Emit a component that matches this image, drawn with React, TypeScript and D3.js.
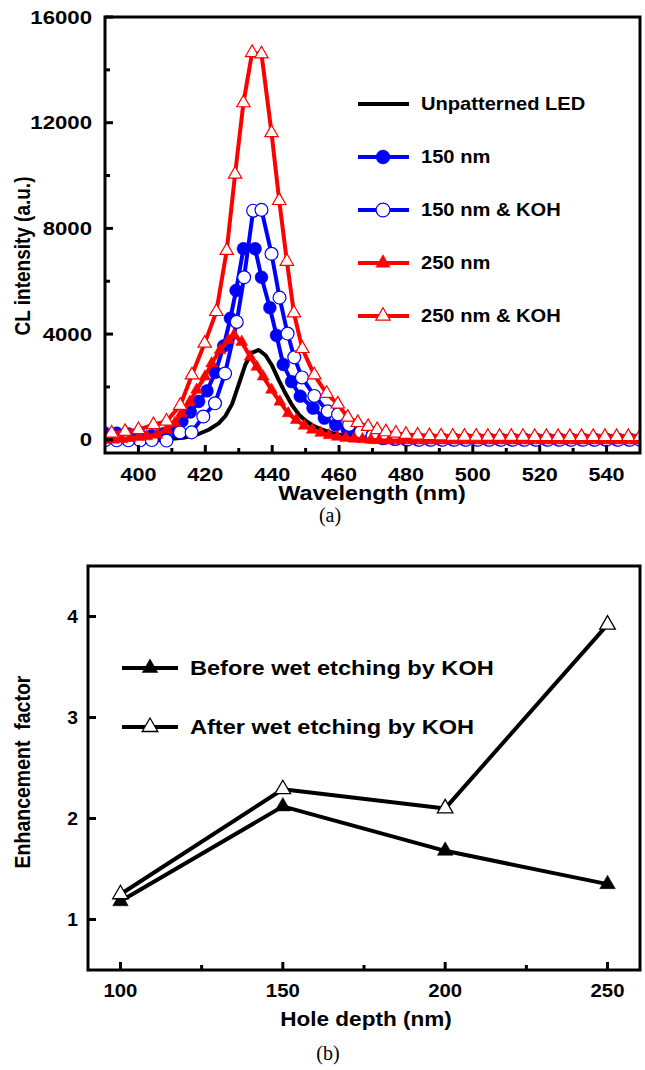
import React, { useRef, useEffect } from 'react';
import * as d3 from 'd3';

type Pt = [number, number];

// (a) CL spectra, [wavelength nm, intensity a.u.]
const unpatterned: Pt[] = [
  [390, 0], [395, 0], [400, 10], [405, 20], [410, 40], [414, 90], [418, 220], [421, 380], [424, 620],
  [426, 900], [428, 1350], [430, 2100], [432, 2850], [434, 3300], [436, 3400], [438, 3200], [440, 2800],
  [442, 2250], [444, 1750], [446, 1300], [448, 950], [450, 720], [452, 550], [455, 380], [458, 250],
  [461, 160], [465, 90], [470, 40], [480, 10], [500, 0], [525, 0], [550, 0],
];

const nm150: Pt[] = [
  [390, 250], [393.5, 250], [397, 220], [400.5, 180], [404, 160], [407.5, 230], [410.5, 420], [413, 700],
  [415.5, 1050], [418, 1450], [420.5, 1850], [423, 2550], [425.5, 3550], [427.5, 4600], [429.2, 5650],
  [431.4, 7230], [434.9, 7230], [436.8, 6150], [439.3, 5000], [441.3, 3950], [443.3, 2850], [445.8, 2200],
  [448.4, 1650], [452.2, 1200], [455.6, 820], [459, 560], [462.5, 360], [466, 200], [469.5, 100], [473, 50],
  [476.5, 20], [480, 0], [483.5, 0], [487, 0], [490.5, 0], [494, 0], [497.5, 0], [501, 0], [504.5, 0],
  [508, 0], [511.5, 0], [515, 0], [518.5, 0], [522, 0], [525.5, 0], [529, 0], [532.5, 0], [536, 0],
  [539.5, 0], [543, 0], [546.5, 0], [550, 0],
];

const nm150Koh: Pt[] = [
  [390, -20], [393.5, -20], [397, -20], [400.5, -20], [404, -10], [408.4, -30], [412.4, 280], [415.9, 280],
  [419.4, 880], [422.9, 1380], [425.9, 2510], [429.4, 4460], [431.6, 6150], [434.3, 8670], [436.8, 8700],
  [439.8, 7040], [442.2, 5380], [444.6, 4020], [446.6, 3120], [448.9, 2360], [452.6, 1660], [456.6, 1080],
  [459.7, 960], [463, 560], [466.5, 300], [470, 150], [473.5, 70], [477, 30], [480.5, 10], [484, 0],
  [487.5, 0], [491, 0], [494.5, 0], [498, 0], [501.5, 0], [505, 0], [508.5, 0], [512, 0], [515.5, 0],
  [519, 0], [522.5, 0], [526, 0], [529.5, 0], [533, 0], [536.5, 0], [540, 0], [543.5, 0], [547, 0], [550, 0],
];

const nm250: Pt[] = [
  [390, 0], [392.5, 0], [395, 30], [397.5, 60], [400, 100], [402.5, 130], [405.5, 190], [408.4, 380],
  [410.9, 630], [412.9, 1000], [415.4, 1440], [417.4, 1890], [419.9, 2390], [421.9, 2890], [424.4, 3390],
  [426.9, 3770], [428.6, 3960], [430.9, 3700], [433.4, 3140], [435.4, 2760], [437.3, 2390], [439.8, 1890],
  [442.3, 1440], [444.8, 1000], [447.2, 750], [449.6, 530], [452, 380], [454.5, 260], [457, 170],
  [459.5, 110], [462, 70], [464.5, 40], [467, 20], [469.5, 0], [472, -20], [475, -30], [478.5, -30],
  [482, -30], [485.5, -30], [489, -30], [492.5, -30], [496, -30], [499.5, -30], [503, -30], [506.5, -30],
  [510, -30], [513.5, -30], [517, -30], [520.5, -30], [524, -30], [527.5, -30], [531, -30], [534.5, -30],
  [538, -30], [541.5, -30], [545, -30], [548.5, -30],
];

const nm250Koh: Pt[] = [
  [392, 250], [396, 310], [400, 380], [404.5, 570], [408.4, 700], [412.5, 1300], [416, 2450], [419.8, 3650],
  [423.3, 4850], [426.4, 7160], [428.9, 10050], [431.4, 12750], [434, 14650], [436.8, 14600], [439.8, 11620],
  [442.1, 9050], [444.4, 6750], [446.5, 4800], [449, 3450], [452.6, 2450], [456.3, 1750], [459.6, 1350],
  [462.6, 850], [465.6, 650], [468.7, 500], [471.4, 380], [474, 300], [477, 250], [480, 200], [483.5, 170],
  [487, 150], [490.5, 140], [494, 130], [497.5, 130], [501, 130], [504.5, 125], [508, 125], [511.5, 125],
  [515, 125], [518.5, 120], [522, 120], [525.5, 120], [529, 120], [532.5, 120], [536, 120], [539.5, 120],
  [543, 120], [546.5, 120], [550, 120],
];

const wlTicks = [400, 420, 440, 460, 480, 500, 520, 540];
const wlMinor = [410, 430, 450, 470, 490, 510, 530];
const clTicks = [0, 4000, 8000, 12000, 16000];
const clMinor = [2000, 6000, 10000, 14000];

// (b) enhancement factor vs hole depth
const holeDepth = [100, 150, 200, 250];
const beforeKoh = [1.18, 2.12, 1.68, 1.35];
const afterKoh = [1.25, 2.29, 2.1, 3.92];
const depthMinor = [125, 175, 225];
const efTicks = [1, 2, 3, 4];

const SANS = '"Liberation Sans", Arial, Helvetica, sans-serif';
const SERIF = '"Liberation Serif", "Times New Roman", serif';

type Sel = d3.Selection<any, unknown, null, undefined>;

function addText(parent: Sel, txt: string, x: number, y: number, o: any = {}) {
  const { size = 17, anchor = 'start', sx = 1, rotate = 0, family = SANS, weight = 'bold' } = o;
  parent.append('text')
    .attr('transform', `translate(${x},${y}) scale(${sx},1)${rotate ? ` rotate(${rotate})` : ''}`)
    .attr('text-anchor', anchor)
    .attr('font-family', family)
    .attr('font-weight', weight)
    .attr('font-size', size)
    .attr('fill', '#000')
    .style('white-space', 'pre')
    .text(txt);
}

function marker(parent: Sel, kind: string, size: number, x: number, y: number, color: string, filled: boolean, sw = 1.2) {
  const sym = kind === 'circle' ? d3.symbolCircle : d3.symbolTriangle;
  parent.append('path')
    .attr('d', d3.symbol().type(sym).size(size)())
    .attr('transform', `translate(${x},${y})`)
    .attr('fill', filled ? color : '#fff')
    .attr('stroke', color)
    .attr('stroke-width', filled ? 0.5 : sw);
}

function drawSpectra(svg: Sel) {
  const x = d3.scaleLinear().domain([390, 550]).range([105, 640]);
  const y = d3.scaleLinear().domain([-500, 16000]).range([453, 17]);
  const g = svg.append('g');

  g.append('clipPath').attr('id', 'clipA')
    .append('rect').attr('x', 105).attr('y', 17).attr('width', 535).attr('height', 436);

  const series = [
    { name: 'Unpatterned LED', data: unpatterned, color: '#000000', kind: '', filled: true, size: 0 },
    { name: '150 nm', data: nm150, color: '#0000ff', kind: 'circle', filled: true, size: 130 },
    { name: '150 nm & KOH', data: nm150Koh, color: '#0000ff', kind: 'circle', filled: false, size: 130 },
    { name: '250 nm', data: nm250, color: '#ff0000', kind: 'triangle', filled: true, size: 62 },
    { name: '250 nm & KOH', data: nm250Koh, color: '#ff0000', kind: 'triangle', filled: false, size: 78 },
  ];

  const line = d3.line<Pt>().x(d => x(d[0])).y(d => y(d[1]));
  const plot = g.append('g').attr('clip-path', 'url(#clipA)');

  series.forEach(s => {
    plot.append('path')
      .datum(s.data)
      .attr('d', line)
      .attr('fill', 'none')
      .attr('stroke', s.color)
      .attr('stroke-width', 4)
      .attr('stroke-linejoin', 'round');
    if (s.kind) {
      s.data.forEach(d => marker(plot, s.kind, s.size, x(d[0]), y(d[1]), s.color, s.filled));
    }
  });

  // frame
  g.append('rect').attr('x', 105).attr('y', 17).attr('width', 535).attr('height', 436)
    .attr('fill', 'none').attr('stroke', '#000').attr('stroke-width', 3);

  // ticks (inward)
  clTicks.forEach(t => {
    g.append('line').attr('x1', 105).attr('x2', 113).attr('y1', y(t)).attr('y2', y(t))
      .attr('stroke', '#000').attr('stroke-width', 3);
    addText(g, String(t), 92, y(t) + 6.5, { size: 18.5, anchor: 'end', sx: 1.2 });
  });
  clMinor.forEach(t => {
    g.append('line').attr('x1', 105).attr('x2', 110).attr('y1', y(t)).attr('y2', y(t))
      .attr('stroke', '#000').attr('stroke-width', 3);
  });
  wlTicks.forEach(t => {
    g.append('line').attr('x1', x(t)).attr('x2', x(t)).attr('y1', 453).attr('y2', 445)
      .attr('stroke', '#000').attr('stroke-width', 3);
    addText(g, String(t), x(t), 481, { size: 18, anchor: 'middle', sx: 1.2 });
  });
  wlMinor.forEach(t => {
    g.append('line').attr('x1', x(t)).attr('x2', x(t)).attr('y1', 453).attr('y2', 448)
      .attr('stroke', '#000').attr('stroke-width', 3);
  });

  addText(g, 'Wavelength (nm)', 372, 500, { size: 19.5, anchor: 'middle', sx: 1.2 });
  addText(g, 'CL intensity (a.u.)', 30, 256, { size: 19, anchor: 'middle', sx: 1.2, rotate: -90 });
  addText(g, '(a)', 330, 522, { size: 20, anchor: 'middle', family: SERIF, weight: 'normal' });

  // legend
  const rows = [104, 157, 210, 263, 316];
  series.forEach((s, i) => {
    const ly = rows[i];
    g.append('line').attr('x1', 358).attr('x2', 409).attr('y1', ly).attr('y2', ly)
      .attr('stroke', s.color).attr('stroke-width', 4);
    if (s.kind) marker(g, s.kind, s.kind === 'circle' ? 150 : 90, 383, ly, s.color, s.filled);
    addText(g, s.name, 421, ly + 6, { size: 17.5, sx: 1.15 });
  });
}

function drawEnhancement(svg: Sel) {
  const x = d3.scaleLinear().domain([90, 260]).range([88, 640]);
  const y = d3.scaleLinear().domain([0.5, 4.5]).range([970, 566]);
  const g = svg.append('g');

  const series = [
    { name: 'Before wet etching by KOH', values: beforeKoh, filled: true },
    { name: 'After wet etching by KOH', values: afterKoh, filled: false },
  ];
  const line = d3.line<number>().x((_, i) => x(holeDepth[i])).y(d => y(d));

  series.forEach(s => {
    g.append('path').datum(s.values).attr('d', line)
      .attr('fill', 'none').attr('stroke', '#000').attr('stroke-width', 4).attr('stroke-linejoin', 'round');
  });
  series.forEach(s => {
    s.values.forEach((v, i) => marker(g, 'triangle', 105, x(holeDepth[i]), y(v), '#000', s.filled, 1.3));
  });

  g.append('rect').attr('x', 88).attr('y', 566).attr('width', 552).attr('height', 404)
    .attr('fill', 'none').attr('stroke', '#000').attr('stroke-width', 3);

  efTicks.forEach(t => {
    g.append('line').attr('x1', 88).attr('x2', 96).attr('y1', y(t)).attr('y2', y(t))
      .attr('stroke', '#000').attr('stroke-width', 3);
    addText(g, String(t), 78, y(t) + 6.5, { size: 17.5, anchor: 'end', sx: 1.1 });
  });
  holeDepth.forEach(t => {
    g.append('line').attr('x1', x(t)).attr('x2', x(t)).attr('y1', 970).attr('y2', 962)
      .attr('stroke', '#000').attr('stroke-width', 3);
    addText(g, String(t), x(t), 997, { size: 18.5, anchor: 'middle', sx: 1.1 });
  });
  depthMinor.forEach(t => {
    g.append('line').attr('x1', x(t)).attr('x2', x(t)).attr('y1', 970).attr('y2', 965)
      .attr('stroke', '#000').attr('stroke-width', 3);
  });

  addText(g, 'Hole depth (nm)', 366, 1026, { size: 20.5, anchor: 'middle', sx: 1.1 });
  addText(g, 'Enhancement  factor', 30, 772, { size: 19.5, anchor: 'middle', sx: 1.15, rotate: -90 });
  addText(g, '(b)', 328, 1060, { size: 20, anchor: 'middle', family: SERIF, weight: 'normal' });

  const rows = [668, 727];
  series.forEach((s, i) => {
    const ly = rows[i];
    g.append('line').attr('x1', 122).attr('x2', 178).attr('y1', ly).attr('y2', ly)
      .attr('stroke', '#000').attr('stroke-width', 4);
    marker(g, 'triangle', 105, 150, ly, '#000', s.filled, 1.3);
    addText(g, s.name, 190, ly + 7, { size: 20.5, sx: 1.15 });
  });
}

export default function App() {
  const svgRef = useRef<SVGSVGElement>(null);

  useEffect(() => {
    if (!svgRef.current) return;
    const svg = d3.select(svgRef.current) as any;
    svg.selectAll('*').remove();
    drawSpectra(svg);
    drawEnhancement(svg);
  }, []);

  return (
    <svg
      ref={svgRef}
      width={645}
      height={1070}
      style={{ position: 'absolute', left: 0, top: 0, background: '#fff', display: 'block' }}
    />
  );
}
